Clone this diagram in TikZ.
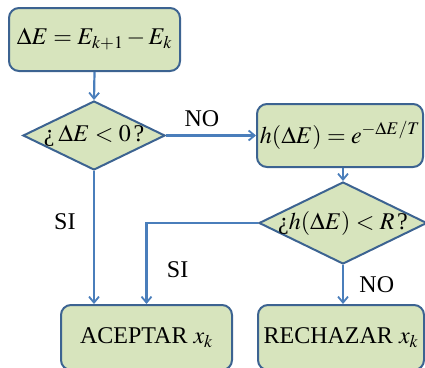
\documentclass[tikz,border=0pt]{standalone}
\usepackage{mathptmx}
\usepackage{fontspec}
\setmainfont{Liberation Serif}
\usetikzlibrary{shapes.geometric,arrows.meta}
\definecolor{boxfill}{HTML}{D7E4BD}
\definecolor{boxline}{HTML}{3C6391}
\definecolor{arrowblue}{HTML}{4A7EBB}
\begin{document}
\begin{tikzpicture}[x=1pt,y=-1pt,
  font=\fontsize{24}{28}\selectfont,
  box/.style={draw=boxline, fill=boxfill, line width=2pt, rounded corners=10pt,
    inner sep=2pt, minimum height=63pt},
  decision/.style={draw=boxline, fill=boxfill, line width=2pt, diamond, inner sep=0pt},
  conn/.style={draw=arrowblue, line width=2.2pt, -{Straight Barb[length=6pt,width=10pt,line width=1.8pt]}},
  lbl/.style={inner sep=0pt}
]
\useasboundingbox (0,0) rectangle (425,367);
\clip (0,0) rectangle (425,367);

\node[box, minimum width=171pt] (b1) at (94.5,39.5) {$\Delta E = E_{k+1} - E_k$};
\node[decision, minimum width=142pt, minimum height=69pt] (d1) at (94,135.5) {};
\node[lbl] (t1) at (d1.center) {¿\,$\Delta E < 0\,$?};
\node[box, minimum width=166pt] (bh) at (340,135.5) {$h(\Delta E) = e^{-\Delta E/T}$};
\node[decision, minimum width=168pt, minimum height=82pt] (d2) at (343,223) {};
\node[lbl] (t2) at (d2.center) {¿$h(\Delta E) < R\,$?};
\node[box, minimum width=171pt, minimum height=65pt] (acc) at (146.5,337.5) {ACEPTAR $x_k$};
\node[box, minimum width=166pt, minimum height=65pt] (rej) at (341,337.5) {RECHAZAR $x_k$};

\draw[conn] (b1.south) -- (d1.north);
\draw[conn] (d1.east) -- node[pos=0.4, above=4pt] (no1) {NO} (bh.west);
\draw[conn] (d2.north |- bh.south) -- (d2.north);
\draw[conn] (d1.south) -- node[pos=0.38, left=14pt] (si1) {SI} (d1.south |- acc.north);
\draw[conn] (d2.west) -| node[pos=0.79, right=16pt] (si2) {SI} (acc.north);
\draw[conn] (d2.south) -- node[pos=0.5, right=12pt] (no2) {NO} (d2.south |- rej.north);
\end{tikzpicture}
\end{document}
